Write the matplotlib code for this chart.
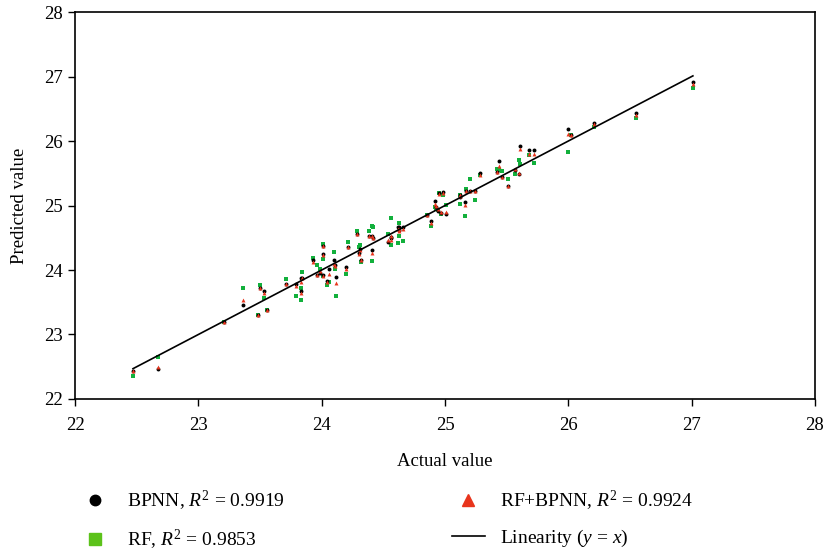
import matplotlib
matplotlib.use('Agg')
from matplotlib import pyplot as plt
from matplotlib.lines import Line2D

plt.rcParams['font.family'] = ['Liberation Serif', 'DejaVu Serif']
plt.rcParams['mathtext.fontset'] = 'custom'
plt.rcParams['mathtext.rm'] = 'Liberation Serif'
plt.rcParams['mathtext.it'] = 'Liberation Serif:italic'

# actual values and the three model predictions
actual = [22.47, 22.67, 23.21, 23.36, 23.48, 23.50, 23.53, 23.56, 23.71, 23.79,
          23.83, 23.83, 23.84, 23.93, 23.96, 23.99, 24.01, 24.01, 24.01, 24.04,
          24.06, 24.10, 24.12, 24.11, 24.20, 24.21, 24.29, 24.30, 24.31, 24.32,
          24.38, 24.41, 24.41, 24.42, 24.54, 24.56, 24.56, 24.62, 24.63, 24.63,
          24.66, 24.85, 24.89, 24.92, 24.93, 24.95, 24.94, 24.97, 24.98, 25.01,
          25.12, 25.12, 25.16, 25.17, 25.20, 25.24, 25.28, 25.42, 25.44, 25.46,
          25.51, 25.57, 25.60, 25.61, 25.68, 25.72, 26.00, 26.02, 26.21, 26.55,
          27.01]
bpnn = [22.43, 22.46, 23.19, 23.46, 23.31, 23.72, 23.67, 23.38, 23.78, 23.78,
        23.88, 23.67, 23.88, 24.15, 23.93, 23.96, 24.37, 24.25, 23.92, 23.83,
        24.01, 24.15, 23.89, 24.08, 24.04, 24.36, 24.56, 24.27, 24.33, 24.15,
        24.53, 24.52, 24.31, 24.50, 24.44, 24.51, 24.49, 24.67, 24.67, 24.62,
        24.67, 24.86, 24.76, 25.07, 24.97, 25.19, 24.91, 24.88, 25.21, 24.87,
        25.17, 25.13, 25.06, 25.23, 25.23, 25.22, 25.50, 25.52, 25.69, 25.44,
        25.31, 25.55, 25.49, 25.93, 25.86, 25.86, 26.19, 26.10, 26.28, 26.43,
        26.91]
rf = [22.35, 22.65, 23.19, 23.72, 23.30, 23.77, 23.57, 23.38, 23.86, 23.60,
      23.72, 23.54, 23.97, 24.19, 24.07, 24.01, 24.41, 24.17, 23.90, 23.76,
      23.82, 24.28, 23.60, 24.02, 23.94, 24.44, 24.60, 24.35, 24.39, 24.13,
      24.61, 24.69, 24.14, 24.66, 24.56, 24.81, 24.39, 24.42, 24.73, 24.53,
      24.45, 24.86, 24.68, 24.98, 24.94, 25.19, 24.93, 24.87, 25.16, 25.01,
      25.16, 25.03, 24.84, 25.26, 25.41, 25.09, 25.47, 25.56, 25.55, 25.54,
      25.41, 25.49, 25.71, 25.65, 25.78, 25.66, 25.83, 26.09, 26.22, 26.36,
      26.82]
rf_bpnn = [22.43, 22.50, 23.19, 23.53, 23.31, 23.72, 23.64, 23.38, 23.78, 23.75,
           23.81, 23.64, 23.88, 24.13, 23.93, 23.99, 24.37, 24.23, 23.90, 23.81,
           23.94, 24.10, 23.80, 24.06, 24.01, 24.36, 24.56, 24.25, 24.31, 24.15,
           24.53, 24.52, 24.26, 24.49, 24.46, 24.52, 24.47, 24.63, 24.63, 24.60,
           24.63, 24.86, 24.73, 25.03, 24.99, 25.18, 24.94, 24.90, 25.20, 24.90,
           25.15, 25.16, 25.01, 25.22, 25.23, 25.22, 25.48, 25.52, 25.62, 25.44,
           25.31, 25.56, 25.50, 25.87, 25.80, 25.80, 26.11, 26.09, 26.26, 26.41,
           26.88]
line_x = [22.47, 27.01]

green = '#12b03c'
red = '#e8341c'

fig = plt.figure(figsize=(8.29, 5.52), dpi=100)
ax = fig.add_axes([0.0905, 0.2772, 0.8926, 0.701])

ax.scatter(actual, rf, marker='s', s=11, color=green, linewidths=0, zorder=2)
ax.scatter(actual, bpnn, marker='o', s=8, color='black', linewidths=0, zorder=3)
ax.scatter(actual, rf_bpnn, marker='^', s=8, color=red, linewidths=0, zorder=4)
ax.plot(line_x, line_x, color='black', linewidth=1.2, zorder=5)

ax.set_xlim(22, 28)
ax.set_ylim(22, 28)
ax.set_xticks(range(22, 29))
ax.set_yticks(range(22, 29))
ax.tick_params(axis='both', direction='out', length=5, labelsize=13.5, width=1)
ax.tick_params(axis='x', pad=8)
ax.tick_params(axis='y', pad=4)
for sp in ax.spines.values():
    sp.set_linewidth(1.2)
ax.set_xlabel('Actual value', fontsize=13.5, labelpad=14)
ax.set_ylabel('Predicted value', fontsize=13.5, labelpad=11)

# legend in two columns below the plot
handles = [
    Line2D([], [], marker='o', linestyle='none', color='black', markersize=7.5),
    Line2D([], [], marker='s', linestyle='none', color='#5cc21a', markersize=8),
    Line2D([], [], marker='^', linestyle='none', color=red, markersize=8),
    Line2D([], [], color='black', linewidth=1.2),
]
labels = ['BPNN, $R^2$ = 0.9919', 'RF, $R^2$ = 0.9853',
          'RF+BPNN, $R^2$ = 0.9924', 'Linearity ($y$ = $x$)']
fig.legend(handles, labels, ncol=2, loc='upper left', bbox_to_anchor=(0.0947, 0.114),
           frameon=False, fontsize=14, handlelength=1.7, columnspacing=8.6,
           labelspacing=0.75, handletextpad=0.77, borderpad=0, borderaxespad=0)

fig.savefig('out.png', dpi=100)
